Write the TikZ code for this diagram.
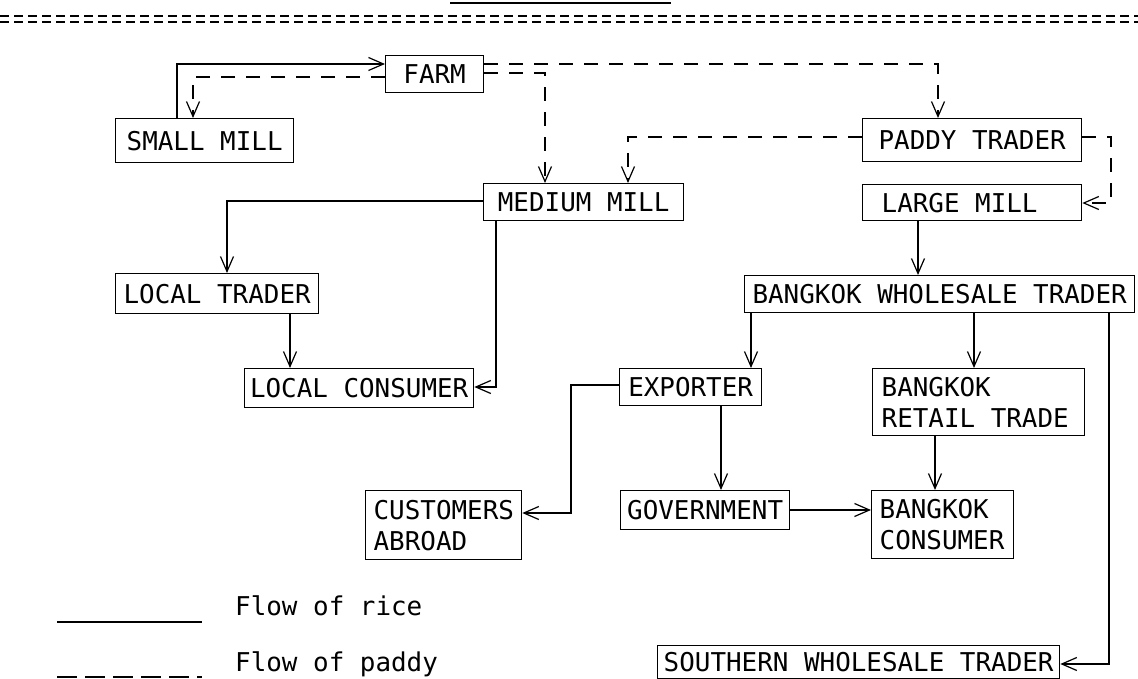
\documentclass[tikz,border=0pt]{standalone}
\usepackage{fontspec}
\newfontfamily\monof{DejaVu Sans Mono}
\newcommand\boxfnt{\monof\fontsize{25.9}{31}\selectfont}
\newcommand\fixsp{\spaceskip=0pt\xspaceskip=0pt\relax}
\usetikzlibrary{arrows.meta}
\begin{document}
\begin{tikzpicture}[x=1pt,y=-1pt,
  box/.style={draw, line width=1.3pt, anchor=north west, inner sep=0pt, font=\boxfnt, align=center},
  lbox/.style={box, align=left},
  tip/.style={-{Straight Barb[length=15pt,width=13pt,line width=1.2pt]}},
  rice/.style={line width=1.3pt, tip},
  paddy/.style={line width=1.2pt, dash pattern=on 14pt off 11pt, tip},
  rule/.style={line width=1.5pt, dash pattern=on 9pt off 5pt}]
\useasboundingbox (0,0) rectangle (1138,679);
% header remnants
\coordinate (t1) at (450,3); \coordinate (t2) at (671,3);
\draw[line width=2.5pt] (t1) -- (t2);
\coordinate (r1a) at (0,16); \coordinate (r1b) at (1138,16);
\coordinate (r2a) at (0,22); \coordinate (r2b) at (1138,22);
\draw[rule] (r1a) -- (r1b);
\draw[rule] (r2a) -- (r2b);
% boxes
\node[box, minimum width=98, minimum height=37] (farm) at (385,55) {FARM};
\node[box, minimum width=178, minimum height=44] (sm) at (115,118) {\fixsp SMALL MILL};
\node[box, minimum width=219, minimum height=43] (pt) at (862,118) {\fixsp PADDY TRADER};
\node[box, minimum width=200, minimum height=37] (mm) at (483,183) {\fixsp MEDIUM MILL};
\node[lbox, minimum width=219, minimum height=36, text width=181] (lm) at (862,184) {\fixsp LARGE MILL};
\node[box, minimum width=203, minimum height=40] (lt) at (115,273) {\fixsp LOCAL TRADER};
\node[box, minimum width=390, minimum height=37] (bwt) at (744,275) {\fixsp BANGKOK WHOLESALE TRADER};
\node[box, minimum width=229, minimum height=39] (lc) at (244,368) {\fixsp LOCAL CONSUMER};
\node[box, minimum width=142, minimum height=37] (exp) at (619,368) {EXPORTER};
\node[lbox, minimum width=212, minimum height=67, text width=194] (brt) at (872,368) {\fixsp BANGKOK\\RETAIL TRADE};
\node[lbox, minimum width=156, minimum height=69, text width=140] (ca) at (365,490) {\fixsp CUSTOMERS\\ABROAD};
\node[box, minimum width=169, minimum height=39] (gov) at (620,490) {GOVERNMENT};
\node[lbox, minimum width=142, minimum height=68, text width=126] (bc) at (871,490) {\fixsp BANGKOK\\CONSUMER};
\node[box, minimum width=402, minimum height=33] (swt) at (657,645) {\fixsp SOUTHERN WHOLESALE TRADER};
% connectors
\coordinate (k1) at (177,64);
\draw[rice] (k1 |- sm.north) -- (k1) -- (k1 -| farm.west);
\coordinate (k2) at (193,77);
\draw[paddy] (k2 -| farm.west) -- (k2) -- (k2 |- sm.north);
\coordinate (k3) at (938,64);
\draw[paddy] (k3 -| farm.east) -- (k3) -- (k3 |- pt.north);
\coordinate (k4) at (545,73);
\draw[paddy] (k4 -| farm.east) -- (k4) -- (k4 |- mm.north);
\coordinate (k5) at (628,137);
\draw[paddy] (k5 -| pt.west) -- (k5) -- (k5 |- mm.north);
\coordinate (k6a) at (1111,137); \coordinate (k6b) at (1111,203);
\draw[paddy] (k6a -| pt.east) -- (k6a) -- (k6b) -- (k6b -| lm.east);
\coordinate (k7) at (227,201);
\draw[rice] (k7 -| mm.west) -- (k7) -- (k7 |- lt.north);
\coordinate (k8) at (290,0);
\draw[rice] (k8 |- lt.south) -- (k8 |- lc.north);
\coordinate (k9) at (496,387);
\draw[rice] (k9 |- mm.south) -- (k9) -- (k9 -| lc.east);
\coordinate (k10) at (918,0);
\draw[rice] (k10 |- lm.south) -- (k10 |- bwt.north);
\coordinate (k11) at (751,0);
\draw[rice] (k11 |- bwt.south) -- (k11 |- exp.north);
\coordinate (k12) at (974,0);
\draw[rice] (k12 |- bwt.south) -- (k12 |- brt.north);
\coordinate (k13) at (1109,664);
\draw[rice] (k13 |- bwt.south) -- (k13) -- (k13 -| swt.east);
\coordinate (k14a) at (571,385); \coordinate (k14b) at (571,513);
\draw[rice] (k14a -| exp.west) -- (k14a) -- (k14b) -- (k14b -| ca.east);
\coordinate (k15) at (721,0);
\draw[rice] (k15 |- exp.south) -- (k15 |- gov.north);
\coordinate (k16) at (935,0);
\draw[rice] (k16 |- brt.south) -- (k16 |- bc.north);
\coordinate (k17) at (0,510);
\draw[rice] (k17 -| gov.east) -- (k17 -| bc.west);
% legend
\coordinate (la1) at (57,622); \coordinate (la2) at (202,622);
\draw[line width=1.3pt] (la1) -- (la2);
\node[anchor=base west, inner sep=0pt, font=\boxfnt] (lgr) at (235,615) {Flow of rice};
\coordinate (lb1) at (57,677); \coordinate (lb2) at (202,677);
\draw[line width=1.3pt, dash pattern=on 20pt off 8pt] (lb1) -- (lb2);
\node[anchor=base west, inner sep=0pt, font=\boxfnt] (lgp) at (235,671) {Flow of paddy};
\end{tikzpicture}
\end{document}
